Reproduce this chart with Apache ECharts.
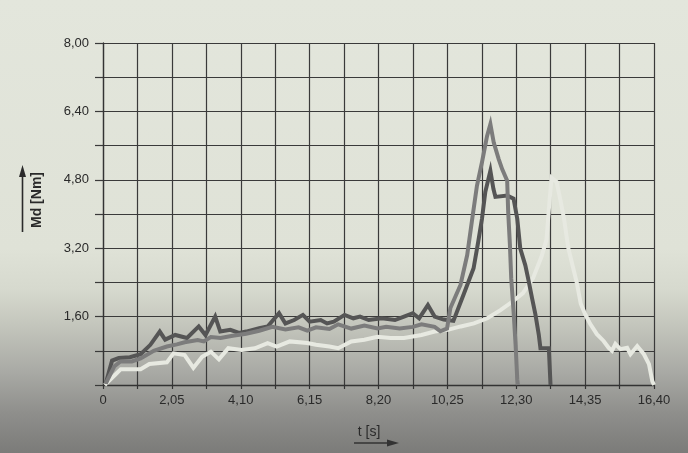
<!DOCTYPE html>
<html>
<head>
<meta charset="utf-8">
<script src="https://cdn.jsdelivr.net/npm/echarts@6/dist/echarts.min.js"></script>
<style>
html,body{margin:0;padding:0;}
body{width:688px;height:453px;overflow:hidden;
background:linear-gradient(to bottom,#e3e6dc 0%,#dfe2d7 55%,#d6d9ce 64%,#c3c5bc 72%,#a9aaa5 82%,#8f8f8c 91%,#7b7b79 100%);}
#chart{width:688px;height:453px;}
</style>
</head>
<body>
<div id="chart"></div>
<script>
// x tick labels (every other 1.025 s grid line), y tick labels (every other 0.80 Nm grid line)
var xTickLabels = ['0','2,05','4,10','6,15','8,20','10,25','12,30','14,35','16,40'];
var yTickLabels = ['1,60','3,20','4,80','6,40','8,00'];

// Series 1: dark grey
var darkT = [0.08,0.27,0.47,0.8,1.12,1.41,1.69,1.85,2.15,2.5,2.85,3.05,3.34,3.49,3.79,4.05,4.26,4.65,4.9,5.24,5.43,5.69,5.95,6.15,6.48,6.67,6.87,7.19,7.45,7.65,7.91,8.3,8.69,8.96,9.22,9.41,9.67,9.87,10.14,10.43,10.73,11.03,11.17,11.28,11.38,11.53,11.62,11.68,12.03,12.22,12.33,12.42,12.57,12.67,12.77,12.87,12.97,13.02,13.27,13.32];
var darkV = [0.03,0.57,0.63,0.65,0.72,0.94,1.25,1.06,1.17,1.10,1.37,1.17,1.60,1.25,1.29,1.22,1.25,1.33,1.37,1.68,1.44,1.52,1.64,1.48,1.52,1.44,1.48,1.64,1.56,1.60,1.52,1.56,1.52,1.60,1.68,1.56,1.87,1.60,1.53,1.50,2.11,2.73,3.36,3.89,4.52,5.01,4.59,4.40,4.43,4.36,3.89,3.19,2.80,2.43,2.03,1.65,1.18,0.86,0.86,0];

// Series 2: medium grey
var medT = [0.08,0.34,0.52,0.86,1.12,1.51,1.9,2.2,2.43,2.82,3.0,3.21,3.5,3.86,4.26,4.65,5.04,5.43,5.82,6.08,6.34,6.74,7.0,7.39,7.78,8.17,8.43,8.83,9.22,9.48,9.87,10.04,10.24,10.34,10.64,10.84,10.99,11.13,11.28,11.43,11.53,11.63,11.78,11.88,12.03,12.06,12.11,12.15,12.22,12.28,12.33,12.35];
var medV = [0.03,0.44,0.55,0.55,0.62,0.80,0.90,0.95,1.00,1.05,1.02,1.12,1.10,1.15,1.20,1.27,1.36,1.30,1.35,1.27,1.35,1.31,1.42,1.32,1.39,1.32,1.36,1.32,1.36,1.42,1.36,1.26,1.32,1.80,2.34,3.04,3.89,4.66,5.21,5.82,6.10,5.67,5.28,5.05,4.78,4.05,3.30,2.50,1.72,0.95,0.13,0];

// Series 3: light (near white)
var lightT = [0.05,0.4,0.53,1.12,1.38,1.9,2.1,2.43,2.69,2.95,3.21,3.45,3.73,4.13,4.52,4.9,5.17,5.56,6.08,6.34,6.74,7.0,7.39,7.78,8.17,8.56,8.96,9.48,9.87,10.26,10.65,11.04,11.44,11.83,12.22,12.5,12.8,13.05,13.2,13.28,13.35,13.5,13.62,13.72,13.85,14.1,14.22,14.35,14.5,14.7,14.9,15.05,15.15,15.25,15.4,15.6,15.7,15.9,16.1,16.25,16.35,16.4];
var lightV = [0.0,0.27,0.37,0.37,0.49,0.53,0.74,0.70,0.40,0.66,0.78,0.60,0.86,0.82,0.86,0.98,0.90,1.02,0.98,0.94,0.90,0.86,1.02,1.06,1.13,1.10,1.10,1.17,1.25,1.29,1.37,1.44,1.56,1.75,1.97,2.15,2.50,3.00,3.40,4.20,4.85,4.75,4.30,3.90,3.20,2.40,1.90,1.66,1.43,1.19,1.03,0.87,0.80,0.96,0.84,0.87,0.72,0.91,0.72,0.49,0.09,0];

function pairs(t, v){ var out=[]; for(var i=0;i<t.length;i++){ out.push([t[i], v[i]]); } return out; }

var FONT = 'Liberation Sans, Arial, Helvetica, sans-serif';
var chart = echarts.init(document.getElementById('chart'), null, {renderer:'canvas'});

function lineSeries(name, t, v, color){
  return {
    name: name, type:'line', data: pairs(t, v), symbol:'none', animation:false,
    lineStyle:{color:color, width:4, join:'miter', miterLimit:6},
    z: 3
  };
}

chart.setOption({
  backgroundColor:'transparent',
  animation:false,
  grid:{left:103, right:34, top:43, bottom:68, outerBoundsMode:'none', containLabel:false},
  xAxis:{
    type:'value', min:0, max:16.4, interval:1.025,
    axisLine:{show:true, lineStyle:{color:'#333', width:1.3}},
    axisTick:{show:true, length:4, lineStyle:{color:'#333', width:1.2}},
    splitLine:{show:true, lineStyle:{color:'#3a3a3a', width:1.2}},
    axisLabel:{
      margin:9, color:'#2a2a2a', fontFamily:FONT, fontSize:13,
      formatter:function(val){ var i=Math.round(val/1.025); return (i%2===0)? xTickLabels[i/2] : ''; }
    }
  },
  yAxis:{
    type:'value', min:0, max:8, interval:0.8,
    axisLine:{show:true, lineStyle:{color:'#333', width:1.3}},
    axisTick:{show:true, length:8, lineStyle:{color:'#3a3a3a', width:1.2}},
    splitLine:{show:true, lineStyle:{color:'#3a3a3a', width:1.2}},
    axisLabel:{
      margin:14, color:'#2a2a2a', fontFamily:FONT, fontSize:13,
      formatter:function(val){ var i=Math.round(val/0.8); return (i>0 && i%2===0)? yTickLabels[i/2-1] : ''; }
    }
  },
  graphic:[
    {type:'text', x:37, y:200, rotation:Math.PI/2,
     style:{text:'Md [Nm]', fill:'#2a2a2a', font:'bold 14px '+FONT, align:'center', verticalAlign:'middle'}},
    {type:'line', shape:{x1:22.5, y1:232, x2:22.5, y2:172}, style:{stroke:'#2a2a2a', lineWidth:1.6}},
    {type:'polygon', shape:{points:[[22.5,165],[19,177],[26,177]]}, style:{fill:'#2a2a2a'}},
    {type:'text', x:369, y:432,
     style:{text:'t [s]', fill:'#2a2a2a', font:'14px '+FONT, align:'center', verticalAlign:'middle'}},
    {type:'line', shape:{x1:354, y1:443, x2:392, y2:443}, style:{stroke:'#333', lineWidth:1.6}},
    {type:'polygon', shape:{points:[[399,443],[387,439.5],[387,446.5]]}, style:{fill:'#333'}}
  ],
  series:[
    lineSeries('light', lightT, lightV, '#e7e9e1'),
    lineSeries('dark', darkT, darkV, '#555555'),
    lineSeries('medium', medT, medV, '#7c7c7c')
  ]
});
</script>
</body>
</html>
